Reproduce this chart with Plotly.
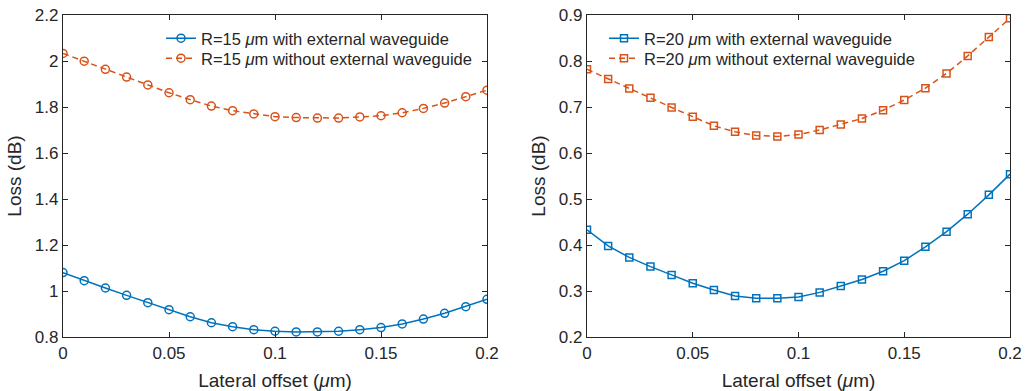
import plotly.graph_objects as go

offset = [0, 0.01, 0.02, 0.03, 0.04, 0.05, 0.06, 0.07, 0.08, 0.09, 0.1,
          0.11, 0.12, 0.13, 0.14, 0.15, 0.16, 0.17, 0.18, 0.19, 0.2]

r15_with = [1.080, 1.045, 1.013, 0.981, 0.949, 0.919, 0.888, 0.862, 0.845, 0.832, 0.825,
            0.822, 0.822, 0.825, 0.832, 0.841, 0.857, 0.878, 0.903, 0.932, 0.964]
r15_without = [2.033, 1.999, 1.964, 1.930, 1.896, 1.862, 1.832, 1.804, 1.784, 1.770, 1.758,
               1.754, 1.752, 1.752, 1.757, 1.762, 1.775, 1.794, 1.817, 1.845, 1.873]
r20_with = [0.433, 0.398, 0.373, 0.353, 0.335, 0.317, 0.302, 0.289, 0.284, 0.284, 0.287,
            0.297, 0.311, 0.325, 0.343, 0.366, 0.396, 0.429, 0.467, 0.509, 0.554]
r20_without = [0.782, 0.761, 0.740, 0.720, 0.699, 0.679, 0.659, 0.646, 0.638, 0.636, 0.640,
               0.650, 0.662, 0.675, 0.693, 0.715, 0.741, 0.773, 0.811, 0.852, 0.893]

x_ticks = [0, 0.05, 0.1, 0.15, 0.2]
x_tick_text = ["0", "0.05", "0.1", "0.15", "0.2"]
y1_ticks = [0.8, 1.0, 1.2, 1.4, 1.6, 1.8, 2.0, 2.2]
y1_tick_text = ["0.8", "1", "1.2", "1.4", "1.6", "1.8", "2", "2.2"]
y2_ticks = [0.2, 0.3, 0.4, 0.5, 0.6, 0.7, 0.8, 0.9]
y2_tick_text = ["0.2", "0.3", "0.4", "0.5", "0.6", "0.7", "0.8", "0.9"]

BLUE = "#0072BD"
ORANGE = "#D95319"
AX = "#262626"
FONT = "Liberation Sans, Arial, Helvetica, sans-serif"

W, H = 1025, 391
fig = go.Figure()

fig.add_trace(go.Scatter(
    x=offset, y=r15_with, mode="lines+markers", name="R=15 <i>μ</i>m with external waveguide",
    line=dict(color=BLUE, width=1.5),
    marker=dict(symbol="circle-open", size=8, color=BLUE, line=dict(width=1.5)),
    xaxis="x", yaxis="y", legend="legend", showlegend=True))
fig.add_trace(go.Scatter(
    x=offset, y=r15_without, mode="lines+markers", name="R=15 <i>μ</i>m without external waveguide",
    line=dict(color=ORANGE, width=1.5, dash="6px,4px"),
    marker=dict(symbol="circle-open", size=8, color=ORANGE, line=dict(width=1.5)),
    xaxis="x", yaxis="y", legend="legend2", showlegend=True))
fig.add_trace(go.Scatter(
    x=offset, y=r20_with, mode="lines+markers", name="R=20 <i>μ</i>m with external waveguide",
    line=dict(color=BLUE, width=1.5),
    marker=dict(symbol="square-open", size=7, color=BLUE, line=dict(width=1.5)),
    xaxis="x2", yaxis="y2", legend="legend3", showlegend=True))
fig.add_trace(go.Scatter(
    x=offset, y=r20_without, mode="lines+markers", name="R=20 <i>μ</i>m without external waveguide",
    line=dict(color=ORANGE, width=1.5, dash="6px,4px"),
    marker=dict(symbol="square-open", size=7, color=ORANGE, line=dict(width=1.5)),
    xaxis="x2", yaxis="y2", legend="legend4", showlegend=True))

top, bottom = 15, 337
ydom = [1 - bottom / H, 1 - top / H]

axis_common = dict(
    showgrid=False, zeroline=False, showline=True, linecolor=AX, linewidth=1.2,
    mirror="ticks", ticks="inside", ticklen=5, tickwidth=1, tickcolor=AX,
    tickfont=dict(family=FONT, size=17, color=AX), automargin=False,
)
xtitle = dict(text="Lateral offset (<i>μ</i>m)", font=dict(family=FONT, size=19, color=AX), standoff=17)
ytitle = dict(text="Loss (dB)", font=dict(family=FONT, size=19, color=AX), standoff=8)


def leg(xpx, ypx):
    return dict(x=xpx / W, y=1 - ypx / H, xanchor="left", yanchor="top",
                bgcolor="rgba(0,0,0,0)", borderwidth=0, tracegroupgap=0, visible=True,
                font=dict(family=FONT, size=16.5, color=AX))


fig.update_layout(
    width=W, height=H,
    showlegend=True,
    margin=dict(l=0, r=0, t=0, b=0, autoexpand=False),
    paper_bgcolor="white", plot_bgcolor="white",
    font=dict(family=FONT, color=AX),
    xaxis=dict(domain=[63 / W, 487 / W], range=[0, 0.2], tickvals=x_ticks, ticktext=x_tick_text,
               anchor="y", title=xtitle, **axis_common),
    yaxis=dict(domain=ydom, range=[0.8, 2.2], tickvals=y1_ticks, ticktext=y1_tick_text,
               anchor="x", title=ytitle, **axis_common),
    xaxis2=dict(domain=[587 / W, 1010 / W], range=[0, 0.2], tickvals=x_ticks, ticktext=x_tick_text,
                anchor="y2", title=xtitle, **axis_common),
    yaxis2=dict(domain=ydom, range=[0.2, 0.9], tickvals=y2_ticks, ticktext=y2_tick_text,
                anchor="x2", title=ytitle, **axis_common),
    legend=leg(161, 21),
    legend2=leg(161, 41),
    legend3=leg(604, 21),
    legend4=leg(604, 41),
)

fig.write_html("out.html", config={"displayModeBar": False},
               post_script="document.body.style.margin='0';")
